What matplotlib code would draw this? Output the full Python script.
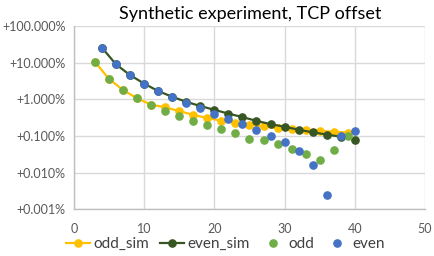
import matplotlib
matplotlib.use("Agg")
import matplotlib.pyplot as plt
from matplotlib.ticker import FuncFormatter, FixedLocator

plt.rcParams['font.family'] = ['Lato', 'DejaVu Sans']

odd_x = [3, 5, 7, 9, 11, 13, 15, 17, 19, 21, 23, 25, 27, 29, 31, 33, 35, 37, 39]
even_x = [4, 6, 8, 10, 12, 14, 16, 18, 20, 22, 24, 26, 28, 30, 32, 34, 36, 38, 40]

odd_sim = [10.6, 3.6, 1.8, 1.07, 0.72, 0.61, 0.48, 0.38, 0.31, 0.265, 0.23, 0.205,
           0.184, 0.165, 0.157, 0.146, 0.137, 0.132, 0.125]
even_sim = [25.6, 9.0, 4.6, 2.7, 1.69, 1.18, 0.86, 0.66, 0.52, 0.41, 0.33, 0.26,
            0.212, 0.18, 0.149, 0.127, 0.11, 0.096, 0.08]
odd = [10.6, 3.6, 1.8, 1.07, 0.71, 0.49, 0.35, 0.26, 0.198, 0.161, 0.119, 0.085,
       0.076, 0.06, 0.044, 0.032, 0.022, 0.042, 0.10]
even = [25.6, 9.0, 4.6, 2.7, 1.69, 1.14, 0.81, 0.57, 0.40, 0.287, 0.209, 0.146,
        0.10, 0.067, 0.038, 0.016, 0.0024, 0.10, 0.14]

title = "Synthetic experiment, TCP offset"

fig = plt.figure(figsize=(4.35, 2.56), dpi=100)
ax = fig.add_axes([0.170, 0.182, 0.807, 0.716])

c_orange = '#FFC000'
c_dkgreen = '#375623'
c_green = '#70AD47'
c_blue = '#4472C4'

ax.plot(odd_x, odd_sim, color=c_orange, lw=1.6, marker='o', ms=5.2, label='odd_sim', zorder=3)
ax.plot(even_x, even_sim, color=c_dkgreen, lw=1.6, marker='o', ms=5.2, label='even_sim', zorder=3)
ax.plot(odd_x, odd, ls='none', marker='o', ms=5.2, color=c_green, label='odd', zorder=4)
ax.plot(even_x, even, ls='none', marker='o', ms=5.2, color=c_blue, label='even', zorder=4)

ax.set_yscale('log')
ax.set_ylim(0.001, 100)
ax.set_xlim(0, 50)
ax.yaxis.set_major_locator(FixedLocator([0.001, 0.01, 0.1, 1, 10, 100]))
ax.yaxis.set_minor_locator(FixedLocator([]))
ax.yaxis.set_major_formatter(FuncFormatter(lambda v, p: '+%.3f%%' % v))
ax.set_xticks([0, 10, 20, 30, 40, 50])

ax.grid(True, color='#d9d9d9', lw=1.0)
ax.set_axisbelow(True)
for s in ['top', 'right']:
    ax.spines[s].set_visible(False)
for s in ['left', 'bottom']:
    ax.spines[s].set_color('#bfbfbf')
    ax.spines[s].set_linewidth(1.0)
ax.tick_params(length=0, labelsize=9, colors='#595959')
ax.tick_params(axis='y', pad=6)
ax.tick_params(axis='x', pad=10)

fig.text(0.575, 0.945, title, ha='center', va='center', fontsize=13, color='#000000')

fig.legend(loc='lower left', bbox_to_anchor=(0.12, -0.035), ncol=4, frameon=False,
           fontsize=11, handlelength=1.6, handletextpad=0.2, columnspacing=0.7,
           labelcolor='#404040')

fig.savefig('out.png', dpi=100)
